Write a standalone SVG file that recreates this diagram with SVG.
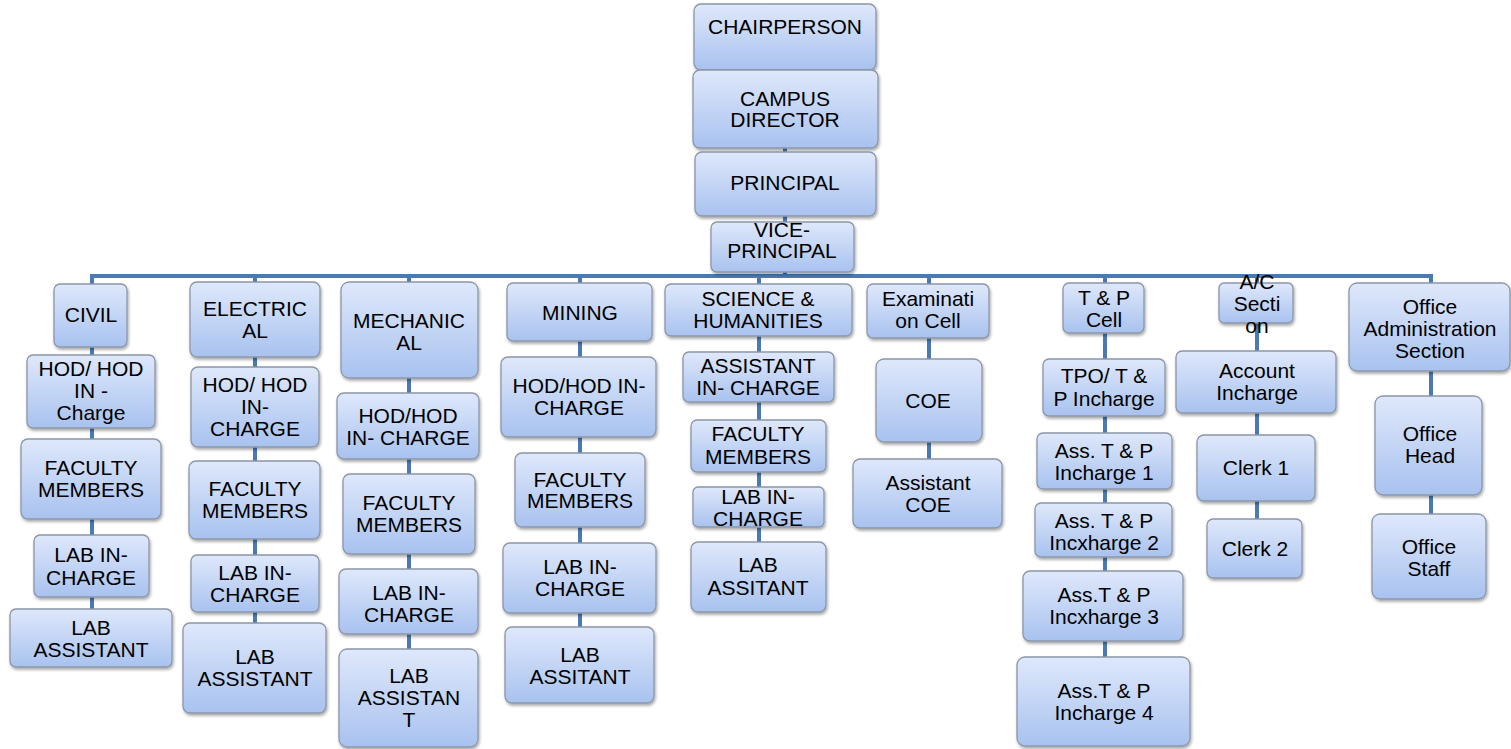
<svg xmlns="http://www.w3.org/2000/svg" width="1511" height="749" viewBox="0 0 1511 749">
<defs>
<linearGradient id="g" x1="0" y1="0" x2="0" y2="1">
<stop offset="0" stop-color="#dfe8fb"/>
<stop offset="1" stop-color="#a8c2ef"/>
</linearGradient>
<filter id="sh" x="-10%" y="-10%" width="125%" height="130%">
<feDropShadow dx="1" dy="2" stdDeviation="1.5" flood-color="#000" flood-opacity="0.35"/>
</filter>
<style>
.b{fill:url(#g);stroke:#8c96a8;stroke-width:1.3;filter:url(#sh)}
.t{font-family:"Liberation Sans",Arial,sans-serif;font-size:21px;fill:#000;text-anchor:middle}
.c{stroke:#4a7ab4;stroke-width:4;fill:none}
</style>
</defs>
<rect width="1511" height="749" fill="#fff"/>
<g id="connectors">
<path class="c" d="M785 35V276"/>
<path class="c" d="M92 284V276H1431V290"/>
<path class="c" d="M92 276V620"/>
<path class="c" d="M255 276V630"/>
<path class="c" d="M409 276V660"/>
<path class="c" d="M580 276V640"/>
<path class="c" d="M759 276V550"/>
<path class="c" d="M929 276V470"/>
<path class="c" d="M1105 276V670"/>
<path class="c" d="M1257 276V530"/>
<path class="c" d="M1431 276V525"/>
</g>
<g id="chair"><rect class="b" x="694" y="4" width="182" height="66" rx="7"/><text class="t"><tspan x="785" y="34">CHAIRPERSON</tspan></text></g>
<g id="campus"><rect class="b" x="693" y="70" width="185" height="78" rx="7"/><text class="t"><tspan x="785" y="106">CAMPUS</tspan><tspan x="785" y="127">DIRECTOR</tspan></text></g>
<g id="principal"><rect class="b" x="695" y="152" width="181" height="64" rx="7"/><text class="t"><tspan x="785" y="190">PRINCIPAL</tspan></text></g>
<g id="vice"><rect class="b" x="711" y="222" width="143" height="50" rx="6"/><text class="t"><tspan x="782" y="237">VICE-</tspan><tspan x="782" y="258">PRINCIPAL</tspan></text></g>

<g id="civil"><rect class="b" x="54" y="284" width="73" height="63" rx="6"/><text class="t"><tspan x="91" y="322">CIVIL</tspan></text></g>
<g id="civil-hod"><rect class="b" x="27" y="355" width="128" height="73" rx="6"/><text class="t"><tspan x="91" y="376">HOD/ HOD</tspan><tspan x="91" y="398">IN -</tspan><tspan x="91" y="420">Charge</tspan></text></g>
<g id="civil-fac"><rect class="b" x="21" y="439" width="140" height="80" rx="7"/><text class="t"><tspan x="91" y="475">FACULTY</tspan><tspan x="91" y="497">MEMBERS</tspan></text></g>
<g id="civil-lic"><rect class="b" x="34" y="535" width="115" height="62" rx="6"/><text class="t"><tspan x="91" y="562">LAB IN-</tspan><tspan x="91" y="585">CHARGE</tspan></text></g>
<g id="civil-la"><rect class="b" x="10" y="609" width="162" height="58" rx="6"/><text class="t"><tspan x="91" y="635">LAB</tspan><tspan x="91" y="657">ASSISTANT</tspan></text></g>

<g id="elec"><rect class="b" x="190" y="282" width="130" height="75" rx="7"/><text class="t"><tspan x="255" y="316">ELECTRIC</tspan><tspan x="255" y="338">AL</tspan></text></g>
<g id="elec-hod"><rect class="b" x="191" y="367" width="128" height="80" rx="7"/><text class="t"><tspan x="255" y="392">HOD/ HOD</tspan><tspan x="255" y="414">IN-</tspan><tspan x="255" y="436">CHARGE</tspan></text></g>
<g id="elec-fac"><rect class="b" x="189" y="461" width="131" height="78" rx="7"/><text class="t"><tspan x="255" y="496">FACULTY</tspan><tspan x="255" y="518">MEMBERS</tspan></text></g>
<g id="elec-lic"><rect class="b" x="191" y="555" width="128" height="57" rx="6"/><text class="t"><tspan x="255" y="580">LAB IN-</tspan><tspan x="255" y="602">CHARGE</tspan></text></g>
<g id="elec-la"><rect class="b" x="183" y="623" width="143" height="90" rx="7"/><text class="t"><tspan x="255" y="664">LAB</tspan><tspan x="255" y="686">ASSISTANT</tspan></text></g>

<g id="mech"><rect class="b" x="341" y="282" width="137" height="96" rx="8"/><text class="t"><tspan x="409" y="328">MECHANIC</tspan><tspan x="409" y="350">AL</tspan></text></g>
<g id="mech-hod"><rect class="b" x="337" y="393" width="142" height="66" rx="7"/><text class="t"><tspan x="408" y="423">HOD/HOD</tspan><tspan x="408" y="445">IN- CHARGE</tspan></text></g>
<g id="mech-fac"><rect class="b" x="343" y="474" width="132" height="80" rx="7"/><text class="t"><tspan x="409" y="510">FACULTY</tspan><tspan x="409" y="532">MEMBERS</tspan></text></g>
<g id="mech-lic"><rect class="b" x="339" y="569" width="139" height="65" rx="7"/><text class="t"><tspan x="409" y="600">LAB IN-</tspan><tspan x="409" y="622">CHARGE</tspan></text></g>
<g id="mech-la"><rect class="b" x="339" y="649" width="139" height="98" rx="8"/><text class="t"><tspan x="409" y="683">LAB</tspan><tspan x="409" y="705">ASSISTAN</tspan><tspan x="409" y="727">T</tspan></text></g>

<g id="mining"><rect class="b" x="507" y="283" width="145" height="58" rx="6"/><text class="t"><tspan x="580" y="320">MINING</tspan></text></g>
<g id="mining-hod"><rect class="b" x="501" y="357" width="155" height="80" rx="7"/><text class="t"><tspan x="579" y="393">HOD/HOD IN-</tspan><tspan x="579" y="415">CHARGE</tspan></text></g>
<g id="mining-fac"><rect class="b" x="515" y="453" width="130" height="74" rx="7"/><text class="t"><tspan x="580" y="487">FACULTY</tspan><tspan x="580" y="508">MEMBERS</tspan></text></g>
<g id="mining-lic"><rect class="b" x="503" y="543" width="153" height="70" rx="7"/><text class="t"><tspan x="580" y="574">LAB IN-</tspan><tspan x="580" y="596">CHARGE</tspan></text></g>
<g id="mining-la"><rect class="b" x="505" y="627" width="149" height="76" rx="7"/><text class="t"><tspan x="580" y="662">LAB</tspan><tspan x="580" y="684">ASSITANT</tspan></text></g>

<g id="sci"><rect class="b" x="665" y="284" width="187" height="52" rx="6"/><text class="t"><tspan x="758" y="306">SCIENCE &amp;</tspan><tspan x="758" y="328">HUMANITIES</tspan></text></g>
<g id="sci-aic"><rect class="b" x="683" y="352" width="151" height="50" rx="6"/><text class="t"><tspan x="758" y="373">ASSISTANT</tspan><tspan x="758" y="395">IN- CHARGE</tspan></text></g>
<g id="sci-fac"><rect class="b" x="691" y="420" width="135" height="52" rx="6"/><text class="t"><tspan x="758" y="441">FACULTY</tspan><tspan x="758" y="464">MEMBERS</tspan></text></g>
<g id="sci-lic"><rect class="b" x="693" y="487" width="131" height="40" rx="5"/><text class="t"><tspan x="758" y="504">LAB IN-</tspan><tspan x="758" y="526">CHARGE</tspan></text></g>
<g id="sci-la"><rect class="b" x="691" y="542" width="135" height="70" rx="7"/><text class="t"><tspan x="758" y="572">LAB</tspan><tspan x="758" y="595">ASSITANT</tspan></text></g>

<g id="exam"><rect class="b" x="867" y="284" width="122" height="54" rx="6"/><text class="t"><tspan x="928" y="306">Examinati</tspan><tspan x="928" y="328">on Cell</tspan></text></g>
<g id="coe"><rect class="b" x="876" y="359" width="106" height="83" rx="8"/><text class="t"><tspan x="928" y="408">COE</tspan></text></g>
<g id="acoe"><rect class="b" x="853" y="459" width="149" height="69" rx="7"/><text class="t"><tspan x="928" y="490">Assistant</tspan><tspan x="928" y="512">COE</tspan></text></g>

<g id="tp"><rect class="b" x="1063" y="283" width="81" height="50" rx="6"/><text class="t"><tspan x="1104" y="305">T &amp; P</tspan><tspan x="1104" y="327">Cell</tspan></text></g>
<g id="tpo"><rect class="b" x="1043" y="359" width="122" height="57" rx="6"/><text class="t"><tspan x="1104" y="383">TPO/ T &amp;</tspan><tspan x="1104" y="406">P Incharge</tspan></text></g>
<g id="tp1"><rect class="b" x="1037" y="433" width="135" height="56" rx="6"/><text class="t"><tspan x="1104" y="458">Ass. T &amp; P</tspan><tspan x="1104" y="480">Incharge 1</tspan></text></g>
<g id="tp2"><rect class="b" x="1035" y="503" width="137" height="54" rx="6"/><text class="t"><tspan x="1104" y="528">Ass. T &amp; P</tspan><tspan x="1104" y="550">Incxharge 2</tspan></text></g>
<g id="tp3"><rect class="b" x="1023" y="571" width="160" height="70" rx="7"/><text class="t"><tspan x="1104" y="602">Ass.T &amp; P</tspan><tspan x="1104" y="624">Incxharge 3</tspan></text></g>
<g id="tp4"><rect class="b" x="1017" y="657" width="173" height="89" rx="8"/><text class="t"><tspan x="1104" y="698">Ass.T &amp; P</tspan><tspan x="1104" y="720">Incharge 4</tspan></text></g>

<g id="ac"><rect class="b" x="1219" y="283" width="74" height="40" rx="5"/><text class="t"><tspan x="1257" y="289">A/C</tspan><tspan x="1257" y="311">Secti</tspan><tspan x="1257" y="333">on</tspan></text></g>
<g id="acc"><rect class="b" x="1176" y="351" width="160" height="62" rx="6"/><text class="t"><tspan x="1257" y="378">Account</tspan><tspan x="1257" y="400">Incharge</tspan></text></g>
<g id="clerk1"><rect class="b" x="1197" y="435" width="118" height="66" rx="7"/><text class="t"><tspan x="1256" y="475">Clerk 1</tspan></text></g>
<g id="clerk2"><rect class="b" x="1207" y="519" width="95" height="59" rx="6"/><text class="t"><tspan x="1255" y="556">Clerk 2</tspan></text></g>

<g id="office"><rect class="b" x="1349" y="283" width="161" height="88" rx="8"/><text class="t"><tspan x="1430" y="314">Office</tspan><tspan x="1430" y="336">Administration</tspan><tspan x="1430" y="358">Section</tspan></text></g>
<g id="ohead"><rect class="b" x="1375" y="396" width="107" height="99" rx="8"/><text class="t"><tspan x="1430" y="441">Office</tspan><tspan x="1430" y="463">Head</tspan></text></g>
<g id="ostaff"><rect class="b" x="1372" y="514" width="114" height="85" rx="8"/><text class="t"><tspan x="1429" y="554">Office</tspan><tspan x="1429" y="576">Staff</tspan></text></g>
</svg>
